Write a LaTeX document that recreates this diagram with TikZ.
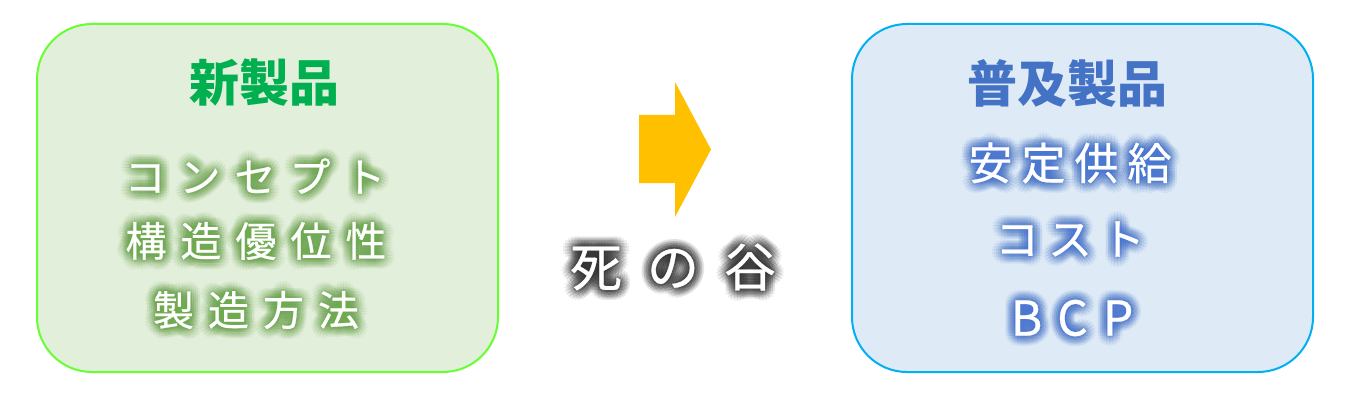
\documentclass[tikz,border=0pt]{standalone}
\usepackage{fontspec}
\newfontfamily\cjk{Noto Sans CJK JP}
\newfontfamily\cjkm[FakeBold=0.6]{Noto Sans CJK JP}
\definecolor{lfill}{HTML}{E2EFDA}
\definecolor{lline}{HTML}{66FF33}
\definecolor{ltitle}{HTML}{00B050}
\definecolor{lglow}{HTML}{6FAA50}
\definecolor{rfill}{HTML}{DEEBF7}
\definecolor{rline}{HTML}{00B0F0}
\definecolor{rtitle}{HTML}{4472C4}
\definecolor{rglow}{HTML}{4A78D0}
\definecolor{mglow}{HTML}{262626}
\definecolor{arrowc}{HTML}{FFC000}
\makeatletter
\newcommand\spc[2]{\def\spc@gap{#1}\let\spc@first\relax
  \@tfor\spc@c:=#2\do{\ifx\spc@first\relax\let\spc@first x\else\hspace{\spc@gap}\fi\spc@c}}
\makeatother
\tikzset{
  panel/.style={rounded corners=55pt, line width=2pt, minimum width=461pt, minimum height=348pt, inner sep=0pt},
  glyph/.style={inner sep=0pt, anchor=center},
  title/.style={glyph, font=\cjk\bfseries\fontsize{#1}{#1}\selectfont},
}
\newcommand\glowline[5]{%
  \foreach \r in {2,4,6,8,10}{%
    \foreach \a in {0,20,...,340}{%
      \node[glyph, text=#3, opacity=0.055, font=\cjkm\fontsize{#4}{#4}\selectfont] (#1-glow) at ([shift={(\a:\r)}]#2) {#5};
    }%
  }%
  \node[glyph, text=white, font=\cjkm\fontsize{#4}{#4}\selectfont] (#1) at (#2) {#5};
}
\begin{document}
\begin{tikzpicture}[x=1pt,y=-1pt]
\useasboundingbox (0,0) rectangle (1351,401);
\node[panel, draw=lline, fill=lfill] (newbox) at (267.5,198) {};
\node[panel, draw=rline, fill=rfill] (popbox) at (1082.5,198) {};
\node[title=50, text=ltitle] (newtitle) at (264,83) {新製品};
\node[title=50, text=rtitle] (poptitle) at (1067,83) {普及製品};
\coordinate (l1) at (255,176);
\coordinate (l2) at (256,241);
\coordinate (l3) at (256,310);
\coordinate (r1) at (1070,163);
\coordinate (r2) at (1070,239);
\coordinate (r3) at (1072,318);
\coordinate (m1) at (673,267);
\glowline{concept}{l1}{lglow}{41}{\spc{14pt}{コンセプト}}
\glowline{structure}{l2}{lglow}{41}{\spc{14pt}{構造優位性}}
\glowline{method}{l3}{lglow}{41}{\spc{14pt}{製造方法}}
\glowline{supply}{r1}{rglow}{44}{\spc{9pt}{安定供給}}
\glowline{cost}{r2}{rglow}{44}{\spc{9pt}{コスト}}
\glowline{bcp}{r3}{rglow}{48}{\spc{15pt}{BCP}}
\glowline{valley}{m1}{mglow}{52}{\spc{25pt}{死の谷}}
\fill[arrowc] (639,115) -- (675,115) -- (675,82) -- (711,149.5) -- (675,217) -- (675,183) -- (639,183) -- cycle;
\end{tikzpicture}
\end{document}
